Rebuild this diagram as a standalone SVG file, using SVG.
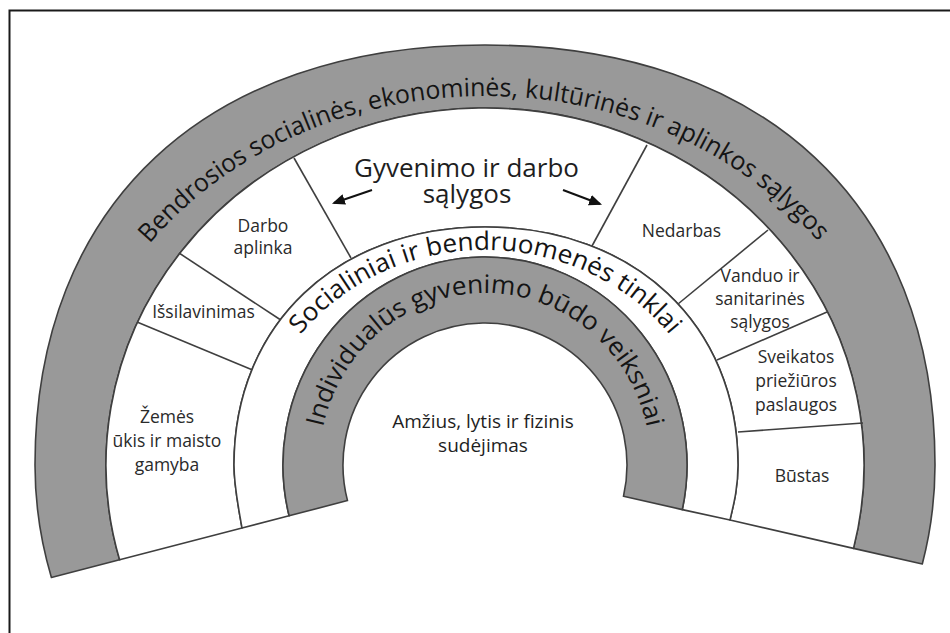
<svg xmlns="http://www.w3.org/2000/svg" width="950" height="633" viewBox="0 0 950 633">
<style>
.band-gray{fill:#999999;stroke:#3f3f3f;stroke-width:1.6;stroke-linejoin:round}
.band-white{fill:#ffffff;stroke:#3f3f3f;stroke-width:1.6;stroke-linejoin:round}
.divider{stroke:#3f3f3f;stroke-width:1.6;fill:none}
.t{font-family:"Open Sans","Liberation Sans",sans-serif;fill:#1e1e1e}
.lbl{font-size:17.5px;fill:#2a2a2a;text-anchor:middle}
.big{font-size:26px;text-anchor:middle}
.mid{font-size:19px;text-anchor:middle}
.arc{font-size:25.5px;fill:#141414}
.arrow{stroke:#111;stroke-width:2;fill:none}
</style>
<defs>
<path id="pOuter" d="M 66,465 A 419 369 0 0 1 904,465"/>
<path id="pSocial" d="M 253,465 A 232 215 0 0 1 717,465"/>
<path id="pInner" d="M 319,465 A 166 172 0 0 1 651,465"/>
<marker id="ah" viewBox="0 0 12 10" refX="10" refY="5" markerWidth="13" markerHeight="11" markerUnits="userSpaceOnUse" orient="auto">
<path d="M0,0 L12,5 L0,10 z" fill="#111"/>
</marker>
</defs>
<rect x="9.5" y="10.5" width="960" height="640" fill="#ffffff" stroke="#1a1a1a" stroke-width="2"/>

<g id="outer-band">
<path class="band-gray" d="M 51.4,577.4 A 450 420 0 0 1 35,465 C 35,204.6 206,45 485,45 C 764,45 935,204.6 935,465 A 450 420 0 0 1 922.3,564 L 853.5,548.4 A 379 357 0 1 0 119.6,559.8 Z"/>
<text class="t arc"><textPath href="#pOuter" startOffset="241.5" textLength="130" lengthAdjust="spacingAndGlyphs">Bendrosios</textPath></text>
<text class="t arc"><textPath href="#pOuter" startOffset="378" textLength="118.6" lengthAdjust="spacingAndGlyphs">socialinės,</textPath></text>
<text class="t arc"><textPath href="#pOuter" startOffset="503" textLength="149" lengthAdjust="spacingAndGlyphs">ekonominės,</textPath></text>
<text class="t arc"><textPath href="#pOuter" startOffset="659" textLength="116" lengthAdjust="spacingAndGlyphs">kultūrinės</textPath></text>
<text class="t arc"><textPath href="#pOuter" startOffset="781.5" textLength="16.5" lengthAdjust="spacingAndGlyphs">ir</textPath></text>
<text class="t arc"><textPath href="#pOuter" startOffset="804.5" textLength="97" lengthAdjust="spacingAndGlyphs">aplinkos</textPath></text>
<text class="t arc"><textPath href="#pOuter" startOffset="908" textLength="86" lengthAdjust="spacingAndGlyphs">sąlygos</textPath></text>
</g>

<g id="living-band">
<path class="band-white" d="M 119.6,559.8 A 379 357 0 1 1 853.5,548.4 L 730,520 C 734,503 738,487 738,465 C 738,324.6 634.3,227 485,227 C 336.9,227 234,324.6 234,465 C 234,487 238.5,507 242,528 Z"/>
</g>

<g id="social-band">
<path class="band-white" d="M 242,528 C 238.5,507 234,487 234,465 C 234,324.6 336.9,227 485,227 C 634.3,227 738,324.6 738,465 C 738,487 734,503 730,520 L 682.3,509.6 A 202 208 0 1 0 289.1,515.8 Z"/>
<text class="t arc"><textPath href="#pSocial" startOffset="141.2" textLength="121" lengthAdjust="spacingAndGlyphs">Socialiniai</textPath></text>
<text class="t arc"><textPath href="#pSocial" startOffset="269" textLength="17.3" lengthAdjust="spacingAndGlyphs">ir</textPath></text>
<text class="t arc"><textPath href="#pSocial" startOffset="293.3" textLength="187.6" lengthAdjust="spacingAndGlyphs">bendruomenės</textPath></text>
<text class="t arc"><textPath href="#pSocial" startOffset="487.7" textLength="73.6" lengthAdjust="spacingAndGlyphs">tinklai</textPath></text>
</g>

<g id="individual-band">
<path class="band-gray" d="M 289.1,515.8 A 202 208 0 1 1 682.3,509.6 L 623.5,496.3 A 142 142 0 1 0 347.5,500.6 Z"/>
<text class="t arc"><textPath href="#pInner" startOffset="38" textLength="147.5" lengthAdjust="spacingAndGlyphs">Individualūs</textPath></text>
<text class="t arc"><textPath href="#pInner" startOffset="192.4" textLength="118.4" lengthAdjust="spacingAndGlyphs">gyvenimo</textPath></text>
<text class="t arc"><textPath href="#pInner" startOffset="317.6" textLength="63.9" lengthAdjust="spacingAndGlyphs">būdo</textPath></text>
<text class="t arc"><textPath href="#pInner" startOffset="388.3" textLength="104.7" lengthAdjust="spacingAndGlyphs">veiksniai</textPath></text>
</g>

<g id="dividers">
<line class="divider" x1="137.6" y1="322.3" x2="252" y2="369.7"/>
<line class="divider" x1="179" y1="253" x2="280" y2="319.5"/>
<line class="divider" x1="294" y1="158" x2="351" y2="258"/>
<line class="divider" x1="647" y1="145" x2="592" y2="246"/>
<line class="divider" x1="768" y1="230" x2="678" y2="304"/>
<line class="divider" x1="827" y1="312" x2="717" y2="360"/>
<line class="divider" x1="863" y1="423" x2="738" y2="432"/>
</g>

<g id="core">
<text class="t mid" x="483" y="428">Amžius, lytis ir fizinis</text>
<text class="t mid" x="483" y="452">sudėjimas</text>
</g>

<g id="gyvenimo">
<text class="t big" x="466.5" y="177">Gyvenimo ir darbo</text>
<text class="t big" x="467" y="203">sąlygos</text>
</g>

<g id="zemes">
<text class="t lbl" x="167" y="423">Žemės</text>
<text class="t lbl" x="167" y="447">ūkis ir maisto</text>
<text class="t lbl" x="167" y="471">gamyba</text>
</g>
<g id="issilavinimas">
<text class="t lbl" x="203.5" y="318">Išsilavinimas</text>
</g>
<g id="darbo-aplinka">
<text class="t lbl" x="263" y="232">Darbo</text>
<text class="t lbl" x="263" y="254">aplinka</text>
</g>
<g id="nedarbas">
<text class="t lbl" x="681.5" y="237">Nedarbas</text>
</g>
<g id="vanduo">
<text class="t lbl" x="760" y="282">Vanduo ir</text>
<text class="t lbl" x="760" y="305">sanitarinės</text>
<text class="t lbl" x="760" y="328">sąlygos</text>
</g>
<g id="sveikatos">
<text class="t lbl" x="796" y="363">Sveikatos</text>
<text class="t lbl" x="796" y="387">priežiūros</text>
<text class="t lbl" x="796" y="411">paslaugos</text>
</g>
<g id="bustas">
<text class="t lbl" x="802" y="482">Būstas</text>
</g>

<g id="connectors">
<line class="arrow" x1="372" y1="190" x2="334" y2="203" marker-end="url(#ah)"/>
<line class="arrow" x1="563" y1="190" x2="600" y2="204" marker-end="url(#ah)"/>
</g>
</svg>
